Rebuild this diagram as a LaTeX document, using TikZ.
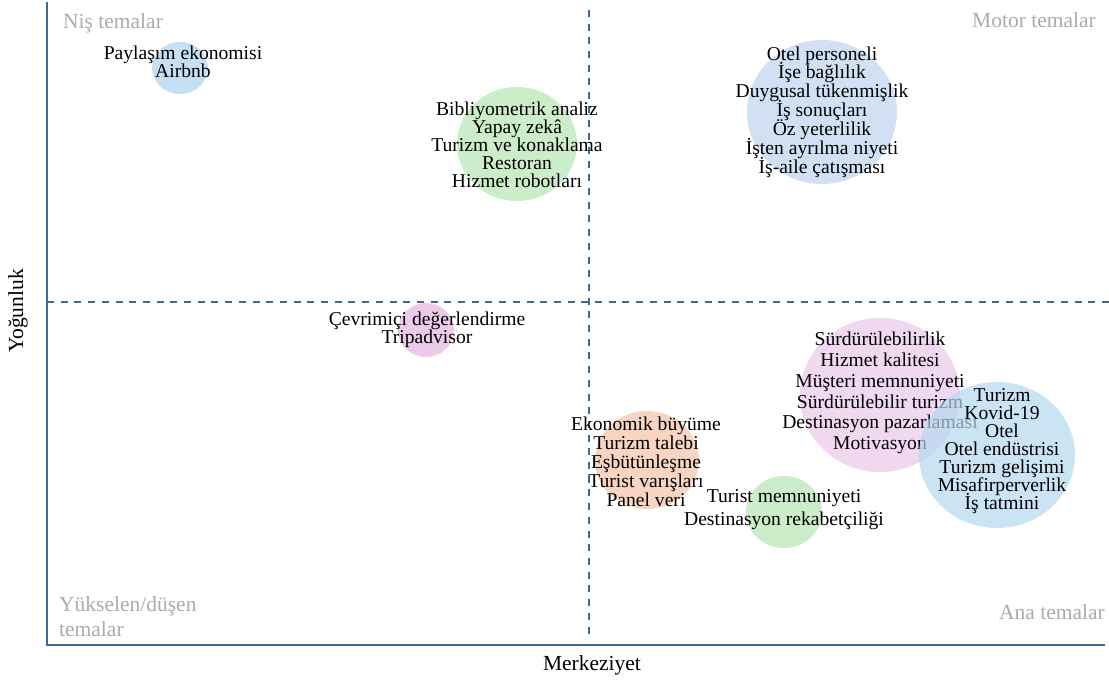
\documentclass[tikz,border=0pt]{standalone}
\usepackage{fontspec}
\setmainfont{Liberation Serif}
\usetikzlibrary{shapes.geometric}
\definecolor{axisblue}{HTML}{3E6B93}
\definecolor{quadgray}{HTML}{ABABAB}
\definecolor{bubAir}{HTML}{C5E0F2}
\definecolor{bubGreen}{HTML}{CCEDC9}
\definecolor{bubTopBlue}{HTML}{D2E0F3}
\definecolor{bubPinkS}{HTML}{ECCBEA}
\definecolor{bubPinkL}{HTML}{EFD8F0}
\definecolor{bubRight}{HTML}{B5D9F0}
\definecolor{bubOrange}{HTML}{F7D5C2}
\begin{document}
\begin{tikzpicture}[x=1pt,y=-1pt,
  lbl/.style={align=center, text=black, inner sep=0pt, execute at begin node={\lineskiplimit=-100pt\relax}},
  quad/.style={text=quadgray, inner sep=0pt, font=\fontsize{21.5}{24}\selectfont},
  axlbl/.style={text=black, inner sep=0pt, font=\fontsize{21.5}{24}\selectfont},
  bubble/.style={ellipse, draw=none, inner sep=0pt},
  axisline/.style={draw=axisblue, line width=2pt},
  divider/.style={draw=axisblue, line width=1.5pt, dash pattern=on 7pt off 6.7pt}]
\useasboundingbox (0,0) rectangle (1109,684);

% bubbles
\node[bubble, fill=bubAir, minimum width=56pt, minimum height=52pt] (cAir) at (180,68) {};
\node[bubble, fill=bubGreen, minimum width=120pt, minimum height=114pt] (cBib) at (517,144) {};
\node[bubble, fill=bubTopBlue, minimum width=150pt, minimum height=144pt] (cOtel) at (822,112) {};
\node[bubble, fill=bubPinkS, minimum width=56pt, minimum height=54pt] (cCev) at (426,330) {};
\node[bubble, fill=bubPinkL, minimum width=160pt, minimum height=154pt] (cSur) at (880,395) {};
\node[bubble, fill=bubOrange, minimum width=104pt, minimum height=98pt] (cEko) at (647,460) {};
\node[bubble, fill=bubGreen, minimum width=76pt, minimum height=72pt] (cTur) at (784,512) {};

% axes and dividers
\coordinate (ytop) at (46.5,2);
\coordinate (origin) at (46.5,645);
\coordinate (xend) at (1105,645);
\coordinate (vtop) at (589,10);
\coordinate (vbot) at (589,640);
\coordinate (hleft) at (47,302);
\coordinate (hright) at (1109,302);
\draw[divider] (vtop) -- (vbot);
\draw[divider] (hleft) -- (hright);
\draw[axisline] (ytop) -- (origin) -- (xend);

% labels
\node[lbl, font=\fontsize{19.6}{18}\selectfont] (tAir) at (183,62) {Paylaşım ekonomisi\\Airbnb};
\node[lbl, font=\fontsize{19.6}{18}\selectfont] (tBib) at (517,145) {Bibliyometrik analiz\\Yapay zekâ\\Turizm ve konaklama\\Restoran\\Hizmet robotları};
\node[lbl, font=\fontsize{19.6}{18.9}\selectfont] (tOtel) at (822,112) {Otel personeli\\İşe bağlılık\\Duygusal tükenmişlik\\İş sonuçları\\Öz yeterlilik\\İşten ayrılma niyeti\\İş-aile çatışması};
\node[lbl, font=\fontsize{19.6}{17.5}\selectfont] (tCev) at (427,330) {Çevrimiçi değerlendirme\\Tripadvisor};
\node[lbl, font=\fontsize{19.6}{20.8}\selectfont] (tSur) at (880,393) {Sürdürülebilirlik\\Hizmet kalitesi\\Müşteri memnuniyeti\\Sürdürülebilir turizm\\Destinasyon pazarlaması\\Motivasyon};
\node[lbl, font=\fontsize{19.6}{19}\selectfont] (tEko) at (646,462) {Ekonomik büyüme\\Turizm talebi\\Eşbütünleşme\\Turist varışları\\Panel veri};
\node[lbl, font=\fontsize{19.6}{23}\selectfont] (tTur) at (784,510) {Turist memnuniyeti\\Destinasyon rekabetçiliği};

% right bubble drawn over overlapping text
\node[bubble, fill=bubRight, fill opacity=0.7, minimum width=156pt, minimum height=146pt] (cRight) at (997,455) {};
\node[lbl, font=\fontsize{19.6}{18}\selectfont] (tRight) at (1002,451) {Turizm\\Kovid-19\\Otel\\Otel endüstrisi\\Turizm gelişimi\\Misafirperverlik\\İş tatmini};

% quadrant names
\node[quad, anchor=base west] (qNis) at (63,29) {Niş temalar};
\node[quad, anchor=base east] (qMotor) at (1096,28) {Motor temalar};
\node[quad, anchor=base east] (qAna) at (1105,619) {Ana temalar};
\node[quad, anchor=base west] (qYuk) at (59,611) {Yükselen/düşen};
\node[quad, anchor=base west] (qYuk2) at (59,636) {temalar};

% axis titles
\node[axlbl] (xlab) at (592,665) {Merkeziyet};
\node[axlbl, rotate=90] (ylab) at (18,311) {Yoğunluk};
\end{tikzpicture}
\end{document}
